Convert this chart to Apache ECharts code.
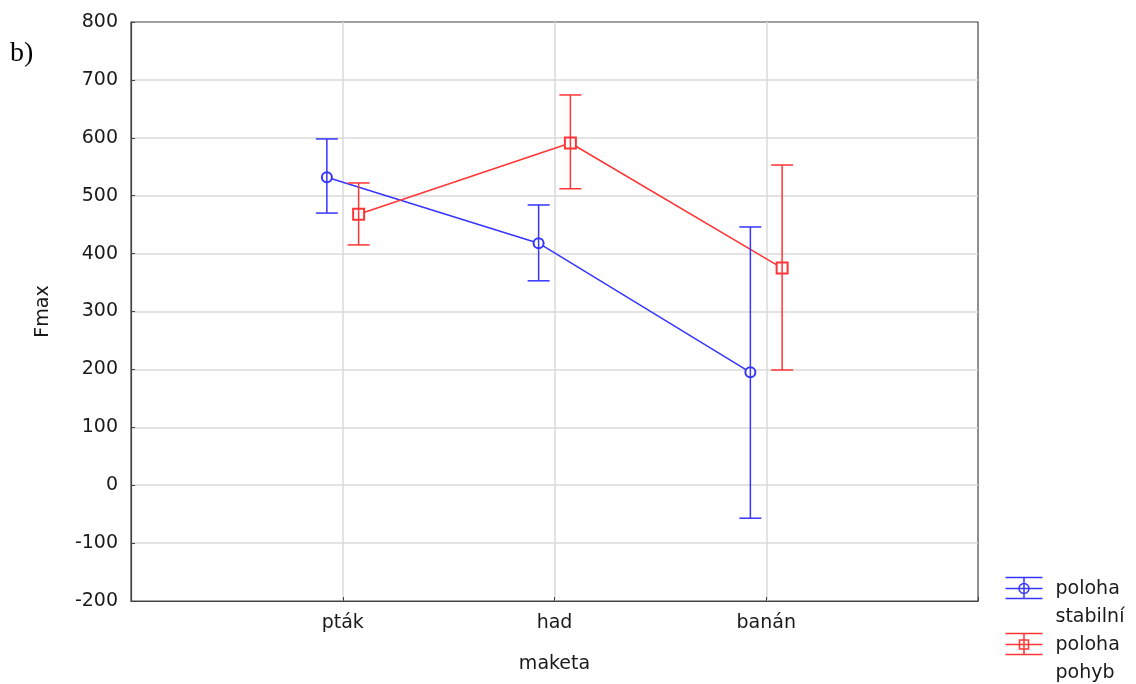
<!DOCTYPE html>
<html>
<head>
<meta charset="utf-8">
<script src="https://cdn.jsdelivr.net/npm/echarts@6/dist/echarts.min.js"></script>
<style>
  html, body { margin: 0; padding: 0; background: #fff; }
  #chart { width: 1136px; height: 684px; }
</style>
</head>
<body>
<div id="chart"></div>
<script>
  // kategorie na ose x (pozice 1, 2, 3)
  const categories = ['pták', 'had', 'banán']
  const yTicks = [-200, -100, 0, 100, 200, 300, 400, 500, 600, 700, 800]

  // poloha stabilní
  const stabilniMean = [532, 418, 195]
  const stabilniLow = [470, 353, -57]
  const stabilniHigh = [598, 484, 446]

  // poloha pohyb
  const pohybMean = [468, 591, 375]
  const pohybLow = [415, 512, 199]
  const pohybHigh = [522, 674, 553]

  const BLUE = '#3535ff'
  const RED = '#ff3535'
  const SHIFT = 0.075
  const FONT = 'DejaVu Sans'
  const FS = 19

  const nameStab = 'poloha\nstabilní'
  const namePoh = 'poloha\npohyb'

  function errRenderer(color) {
    return function (params, api) {
      const x = api.value(0)
      const lo = api.coord([x, api.value(1)])
      const hi = api.coord([x, api.value(2)])
      const w = 11
      const style = { stroke: color, lineWidth: 1.5 }
      return {
        type: 'group',
        children: [
          { type: 'line', shape: { x1: lo[0], y1: lo[1], x2: hi[0], y2: hi[1] }, style },
          { type: 'line', shape: { x1: hi[0] - w, y1: hi[1], x2: hi[0] + w, y2: hi[1] }, style },
          { type: 'line', shape: { x1: lo[0] - w, y1: lo[1], x2: lo[0] + w, y2: lo[1] }, style }
        ]
      }
    }
  }

  // ikona legendy: chybova usecka otocena, v horni casti polozky
  const iconCircle = 'path://M0 0H0.01M45 55H45.01' +
    'M0 2H37M0 13H37M0 23H37M18.5 2V23' +
    'M23.5 13A5 5 0 1 1 13.5 13A5 5 0 1 1 23.5 13'
  const iconRect = 'path://M0 0H0.01M45 55H45.01' +
    'M0 2H37M0 13H37M0 23H37M18.5 2V23' +
    'M14 8.5H23V17.5H14Z'

  function legendFor(name, icon, color, top) {
    return {
      left: 1003, top: top,
      orient: 'vertical',
      padding: 0,
      itemWidth: 45,
      itemHeight: 55,
      selectedMode: false,
      textStyle: { fontFamily: FONT, fontSize: FS, lineHeight: 27.5, color: '#1a1a1a' },
      data: [{ name: name, icon: icon, itemStyle: { color: 'none', borderColor: color, borderWidth: 1.5 } }]
    }
  }

  const chart = echarts.init(document.getElementById('chart'))
  chart.setOption({
    animation: false,
    backgroundColor: '#fff',
    textStyle: { fontFamily: FONT },
    graphic: [{
      type: 'text', left: 10, top: 40,
      style: { text: 'b)', font: '28px "Liberation Serif"', fill: '#000' }
    }],
    grid: {
      left: 131, right: 158, top: 22, bottom: 83,
      show: true, borderColor: '#444', borderWidth: 1.2
    },
    legend: [
      legendFor(nameStab, iconCircle, BLUE, 573),
      legendFor(namePoh, iconRect, RED, 629)
    ],
    xAxis: {
      type: 'value',
      min: 0, max: 4, interval: 1,
      name: 'maketa',
      nameLocation: 'middle',
      nameGap: 54,
      nameTextStyle: { fontFamily: FONT, fontSize: FS, color: '#1a1a1a' },
      axisLine: { show: true, onZero: false, lineStyle: { color: '#444', width: 1.2 } },
      axisTick: { show: true, inside: true, length: 4, lineStyle: { color: '#444' } },
      axisLabel: {
        margin: 13, fontSize: FS, color: '#1a1a1a', fontFamily: FONT,
        formatter: v => categories[v - 1] || ''
      },
      splitLine: { show: true, showMinLine: false, showMaxLine: false, lineStyle: { color: '#dadada', width: 1.5 } }
    },
    yAxis: {
      type: 'value',
      min: yTicks[0], max: yTicks[yTicks.length - 1], interval: 100,
      name: 'Fmax',
      nameLocation: 'middle',
      nameGap: 78,
      nameTextStyle: { fontFamily: FONT, fontSize: FS, color: '#1a1a1a' },
      axisLine: { show: true, onZero: false, lineStyle: { color: '#444', width: 1.2 } },
      axisTick: { show: true, inside: true, length: 4, lineStyle: { color: '#444' } },
      axisLabel: { margin: 13, fontSize: FS, color: '#1a1a1a', fontFamily: FONT },
      splitLine: { show: true, showMinLine: false, showMaxLine: false, lineStyle: { color: '#dadada', width: 1.5 } }
    },
    series: [
      {
        name: nameStab,
        type: 'line',
        data: stabilniMean.map((v, i) => [i + 1 - SHIFT, v]),
        symbol: 'emptyCircle',
        symbolSize: 10,
        itemStyle: { color: BLUE, borderWidth: 1.5 },
        lineStyle: { color: BLUE, width: 1.5 }
      },
      {
        name: namePoh,
        type: 'line',
        data: pohybMean.map((v, i) => [i + 1 + SHIFT, v]),
        symbol: 'emptyRect',
        symbolSize: 11,
        itemStyle: { color: RED, borderWidth: 1.5 },
        lineStyle: { color: RED, width: 1.5 }
      },
      {
        name: nameStab,
        type: 'custom',
        renderItem: errRenderer(BLUE),
        encode: { x: 0, y: [1, 2] },
        data: stabilniLow.map((v, i) => [i + 1 - SHIFT, v, stabilniHigh[i]]),
        z: 10
      },
      {
        name: namePoh,
        type: 'custom',
        renderItem: errRenderer(RED),
        encode: { x: 0, y: [1, 2] },
        data: pohybLow.map((v, i) => [i + 1 + SHIFT, v, pohybHigh[i]]),
        z: 10
      }
    ]
  })
</script>
</body>
</html>
